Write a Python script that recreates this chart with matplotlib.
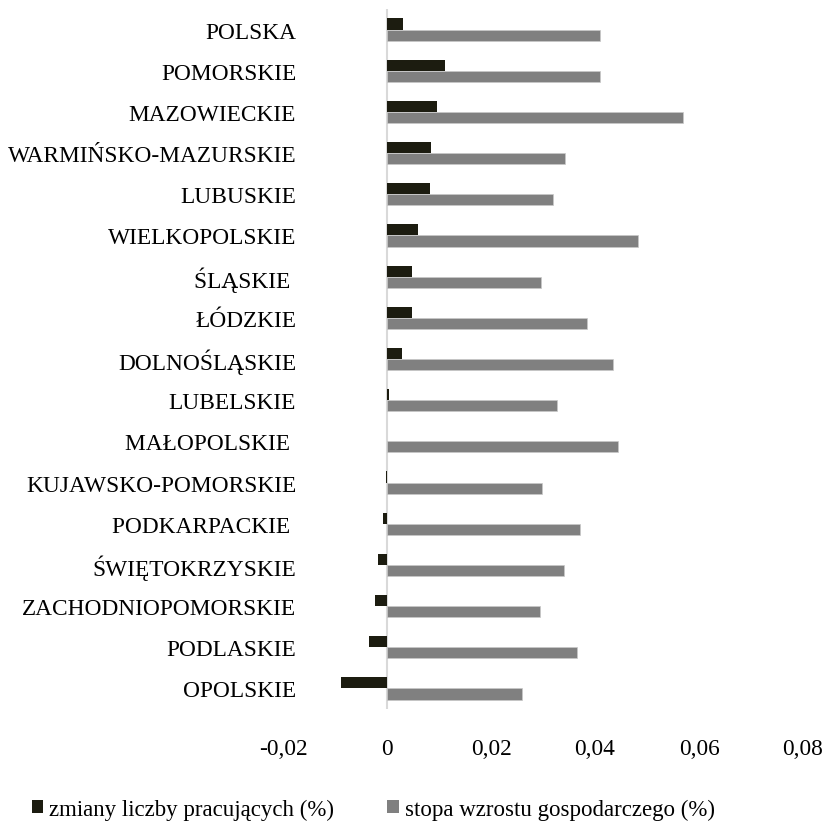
import matplotlib.pyplot as plt
import numpy as np
from matplotlib.patches import Patch
from matplotlib.ticker import FuncFormatter

plt.rcParams['font.family'] = ['Liberation Serif', 'DejaVu Serif']

regiony = ['POLSKA', 'POMORSKIE', 'MAZOWIECKIE', 'WARMIŃSKO-MAZURSKIE', 'LUBUSKIE',
           'WIELKOPOLSKIE', 'ŚLĄSKIE ', 'ŁÓDZKIE', 'DOLNOŚLĄSKIE', 'LUBELSKIE',
           'MAŁOPOLSKIE ', 'KUJAWSKO-POMORSKIE', 'PODKARPACKIE ', 'ŚWIĘTOKRZYSKIE',
           'ZACHODNIOPOMORSKIE', 'PODLASKIE', 'OPOLSKIE']

# zmiany liczby pracujacych (%)
pracujacy = [0.0031, 0.0112, 0.0097, 0.0085, 0.0083,
             0.0060, 0.0049, 0.0049, 0.0029, 0.0003,
             0.0, -0.0001, -0.0008, -0.0017,
             -0.0024, -0.0034, -0.0088]

# stopa wzrostu gospodarczego (%)
wzrost = [0.0410, 0.0410, 0.0570, 0.0342, 0.0320,
          0.0482, 0.0296, 0.0384, 0.0434, 0.0327,
          0.0445, 0.0298, 0.0372, 0.0340,
          0.0294, 0.0366, 0.0259]

kol_czarny = '#1c1c10'
kol_szary = '#808080'
fs = 16.8

fig = plt.figure(figsize=(8.24, 8.29), dpi=100)
ax = fig.add_axes([283 / 824, 1 - 710 / 829, 520 / 824, 700 / 829])

y = np.arange(len(regiony))
h = 0.27
ax.barh(y - h / 2, pracujacy, height=h, color=kol_czarny, edgecolor='none', zorder=3)
ax.barh(y + h / 2, wzrost, height=h, color=kol_szary, edgecolor='#c8c8c8',
        linewidth=0.5, zorder=3)

ax.axvline(0, color='#d9d9d9', linewidth=1.5, zorder=2)

ax.set_xlim(-0.02, 0.08)
ax.set_ylim(len(regiony) - 0.5, -0.5)
ax.set_xticks([-0.02, 0, 0.02, 0.04, 0.06, 0.08])
ax.xaxis.set_major_formatter(FuncFormatter(
    lambda v, p: '0' if abs(v) < 1e-12 else ('%.2f' % v).replace('.', ',')))
ax.set_yticks(y)
ax.set_yticklabels(regiony)

for s in ax.spines.values():
    s.set_visible(False)
ax.tick_params(axis='y', length=0, pad=-9.5, labelsize=fs)
ax.tick_params(axis='x', length=0, pad=21, labelsize=fs)

uchwyty = [Patch(facecolor=kol_czarny, edgecolor='none'),
           Patch(facecolor=kol_szary, edgecolor='none')]
fig.legend(uchwyty, ['zmiany liczby pracujących (%)', 'stopa wzrostu gospodarczego (%)'],
           loc='center', bbox_to_anchor=(0.453, 1 - 810 / 829), ncol=2, frameon=False,
           fontsize=16.5, handlelength=0.5, handleheight=0.5, handletextpad=0.26,
           columnspacing=2.3, borderpad=0, borderaxespad=0)

fig.savefig('out.png', dpi=100)
